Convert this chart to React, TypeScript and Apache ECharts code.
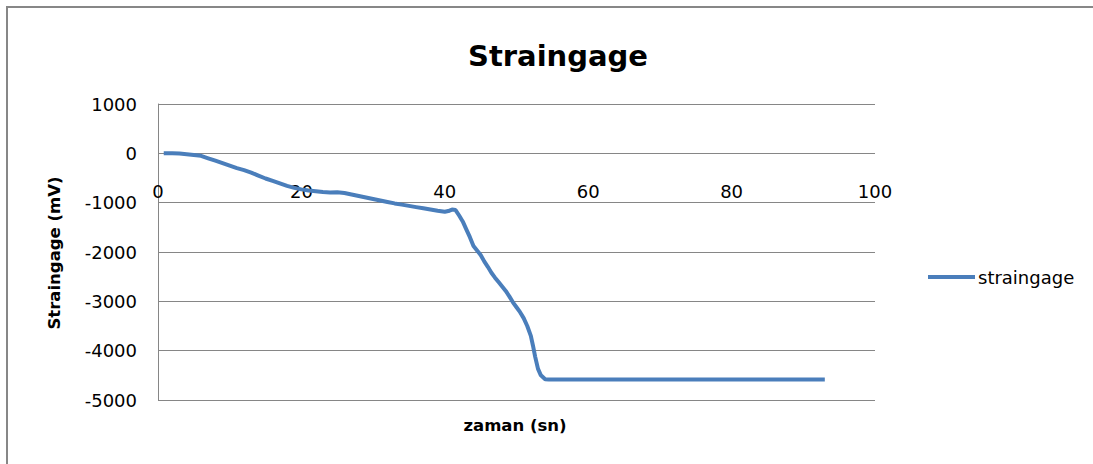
import React, { useEffect, useRef } from "react";
import * as echarts from "echarts";

const titleText = "Straingage";
const xAxisName = "zaman (sn)";
const yAxisName = "Straingage (mV)";
const seriesName = "straingage";

const timeSec = [
  0.8, 2, 3, 4, 5, 6, 7, 8, 9, 10, 11, 12, 13, 14, 15, 16, 17, 18, 19, 20,
  21, 22, 23, 24, 25, 26, 27, 28, 29, 30, 31, 32, 33, 34, 35, 36, 37, 38, 39,
  40, 40.5, 41, 41.5, 42, 42.5, 43, 43.5, 44, 44.5, 45, 45.5, 46, 46.5, 47,
  47.5, 48, 48.5, 49, 49.5, 50, 50.5, 51, 51.5, 52, 52.3, 52.6, 53, 53.4, 54,
  54.5, 60, 70, 80, 93,
];
const strainMv = [
  0, 0, -5, -20, -35, -50, -100, -150, -200, -250, -300, -340, -390, -450,
  -510, -560, -610, -660, -700, -730, -755, -770, -785, -795, -790, -805,
  -835, -865, -895, -925, -955, -985, -1015, -1040, -1065, -1090, -1115,
  -1140, -1165, -1185, -1170, -1140, -1150, -1260, -1380, -1540, -1700,
  -1880, -1970, -2060, -2190, -2300, -2420, -2520, -2610, -2700, -2790,
  -2900, -3020, -3120, -3220, -3340, -3500, -3700, -3900, -4120, -4370,
  -4500, -4580, -4585, -4585, -4585, -4585, -4585,
];

const FONT = "DejaVu Sans";

export default function App() {
  const ref = useRef<HTMLDivElement>(null);
  useEffect(() => {
    if (!ref.current) return;
    document.body.style.margin = "0";
    document.body.style.overflow = "hidden";
    const chart = echarts.init(ref.current, undefined, { renderer: "svg" });
    const data = timeSec.map((t, i) => [t, strainMv[i]]);
    chart.setOption({
      animation: false,
      backgroundColor: "#ffffff",
      title: {
        text: titleText,
        left: 553,
        top: 36,
        textAlign: "center",
        textStyle: { fontFamily: FONT, fontSize: 29, fontWeight: "bold", color: "#000" },
      },
      legend: {
        data: [seriesName],
        left: 923,
        top: 263,
        icon: "rect",
        itemWidth: 47,
        itemHeight: 4,
        itemGap: 4,
        textStyle: { fontFamily: FONT, fontSize: 18, color: "#000", padding: [0, 0, 0, -2] },
      },
      grid: { left: 158, right: 218, top: 104, bottom: 64, containLabel: false },
      xAxis: [
        {
          type: "value",
          min: 0,
          max: 100,
          interval: 20,
          axisLine: { show: false },
          axisTick: { show: false },
          splitLine: { show: false },
          axisLabel: {
            margin: -218,
            fontFamily: FONT,
            fontSize: 18,
            color: "#000",
            formatter: (v: number) => String(v),
          },
        },
      ],
      yAxis: {
        type: "value",
        min: -5000,
        max: 1000,
        interval: 1000,
        axisLine: { show: true, onZero: false, lineStyle: { color: "#868686", width: 1 } },
        axisTick: { show: false },
        splitLine: { show: true, lineStyle: { color: "#868686", width: 1 } },
        axisLabel: {
          margin: 21,
          fontFamily: FONT,
          fontSize: 18,
          color: "#000",
          formatter: (v: number) => String(v),
        },
      },
      graphic: [
        {
          type: "line",
          shape: { x1: 7, y1: 7, x2: 1093, y2: 7 },
          style: { stroke: "#878787", lineWidth: 2 },
          silent: true,
        },
        {
          type: "line",
          shape: { x1: 7, y1: 6, x2: 7, y2: 464 },
          style: { stroke: "#878787", lineWidth: 2 },
          silent: true,
        },
        {
          type: "text",
          x: 515,
          y: 425,
          style: {
            text: xAxisName,
            fontFamily: FONT,
            fontSize: 16.5,
            fontWeight: "bold",
            fill: "#000",
            textAlign: "center",
            textVerticalAlign: "middle",
          },
        },
        {
          type: "text",
          x: 54,
          y: 253,
          rotation: Math.PI / 2,
          style: {
            text: yAxisName,
            fontFamily: FONT,
            fontSize: 16.5,
            fontWeight: "bold",
            fill: "#000",
            textAlign: "center",
            textVerticalAlign: "middle",
          },
        },
      ],
      series: [
        {
          name: seriesName,
          type: "line",
          data,
          showSymbol: false,
          symbol: "none",
          smooth: false,
          lineStyle: { color: "#4A7EBB", width: 4 },
          itemStyle: { color: "#4A7EBB" },
        },
      ],
    });
    return () => chart.dispose();
  }, []);
  return (
    <div
      ref={ref}
      style={{ position: "absolute", left: 0, top: 0, width: 1093, height: 464 }}
    />
  );
}
